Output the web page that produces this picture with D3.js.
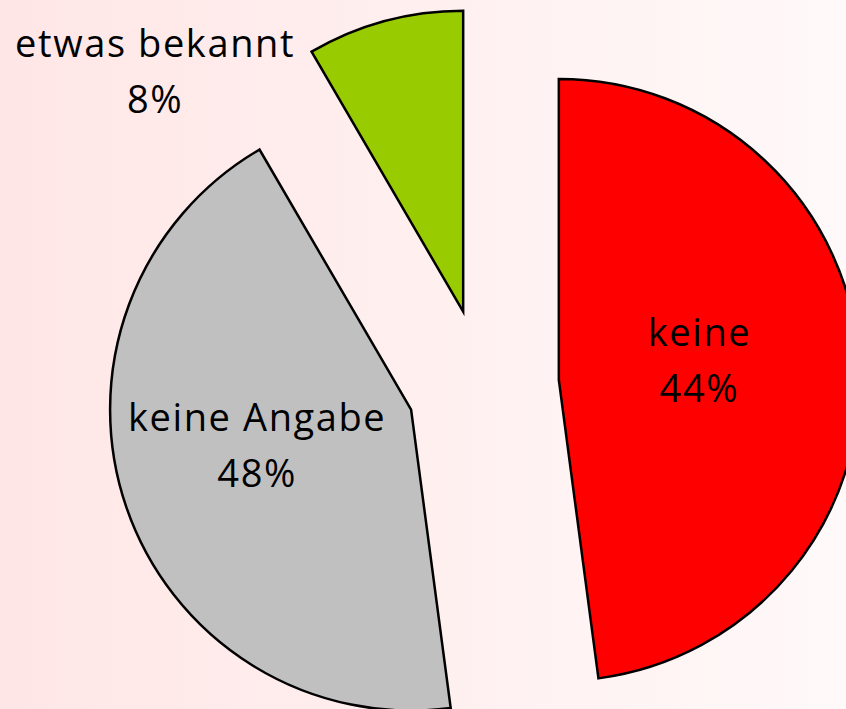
<!DOCTYPE html>
<html>
<head>
<meta charset="utf-8">
<script src="https://cdn.jsdelivr.net/npm/d3@7"></script>
<style>
  html, body { margin: 0; padding: 0; overflow: hidden; }
  svg { display: block; }
</style>
</head>
<body>
<div id="chart"></div>
<script>
const categories = ['keine', 'keine Angabe', 'etwas bekannt'];
const shares = [47.9, 43.7, 8.4];
const pctLabels = ['44%', '48%', '8%'];
const colors = ['#ff0000', '#c0c0c0', '#99cc00'];

// label anchor relative to each slice apex: angle (deg, clockwise from 12 o'clock) and distance
const labelPolar = [[82, 142], [257, 158], [308, 391]];

const width = 846;
const height = 709;
const cx = 483;
const cy = 385;
const radius = 301;
const explode = 76;

const svg = d3.select('#chart').append('svg')
  .attr('width', width)
  .attr('height', height);

const grad = svg.append('defs').append('linearGradient')
  .attr('id', 'bg')
  .attr('x1', '0%').attr('x2', '100%')
  .attr('y1', '0%').attr('y2', '0%');
grad.append('stop').attr('offset', '0%').attr('stop-color', '#ffe6e6');
grad.append('stop').attr('offset', '100%').attr('stop-color', '#fff9f9');

svg.append('rect')
  .attr('width', width)
  .attr('height', height)
  .attr('fill', 'url(#bg)');

const pie = d3.pie().sort(null).value(d => d);
const arc = d3.arc().innerRadius(0).outerRadius(radius);
const slices = pie(shares);

const polar = (deg, dist) => {
  const a = deg * Math.PI / 180;
  return [dist * Math.sin(a), -dist * Math.cos(a)];
};

const g = svg.append('g').attr('transform', `translate(${cx},${cy})`);

const sliceG = g.selectAll('g.slice')
  .data(slices)
  .join('g')
  .attr('class', 'slice')
  .attr('transform', d => {
    const mid = (d.startAngle + d.endAngle) / 2;
    return `translate(${explode * Math.sin(mid)},${-explode * Math.cos(mid)})`;
  });

sliceG.append('path')
  .attr('d', arc)
  .attr('fill', (d, i) => colors[i])
  .attr('stroke', '#000')
  .attr('stroke-width', 2.5)
  .attr('stroke-linejoin', 'miter');

const labels = sliceG.append('text')
  .attr('transform', (d, i) => {
    const [x, y] = polar(labelPolar[i][0], labelPolar[i][1]);
    return `translate(${x},${y})`;
  })
  .attr('text-anchor', 'middle')
  .style('font-family', '"Open Sans", "Noto Sans", sans-serif')
  .style('font-size', '38px')
  .style('letter-spacing', '1.6px')
  .attr('fill', '#000');

labels.append('tspan')
  .attr('x', 0)
  .attr('y', -14)
  .text((d, i) => categories[i]);

labels.append('tspan')
  .attr('x', 0)
  .attr('y', 42)
  .text((d, i) => pctLabels[i]);
</script>
</body>
</html>
